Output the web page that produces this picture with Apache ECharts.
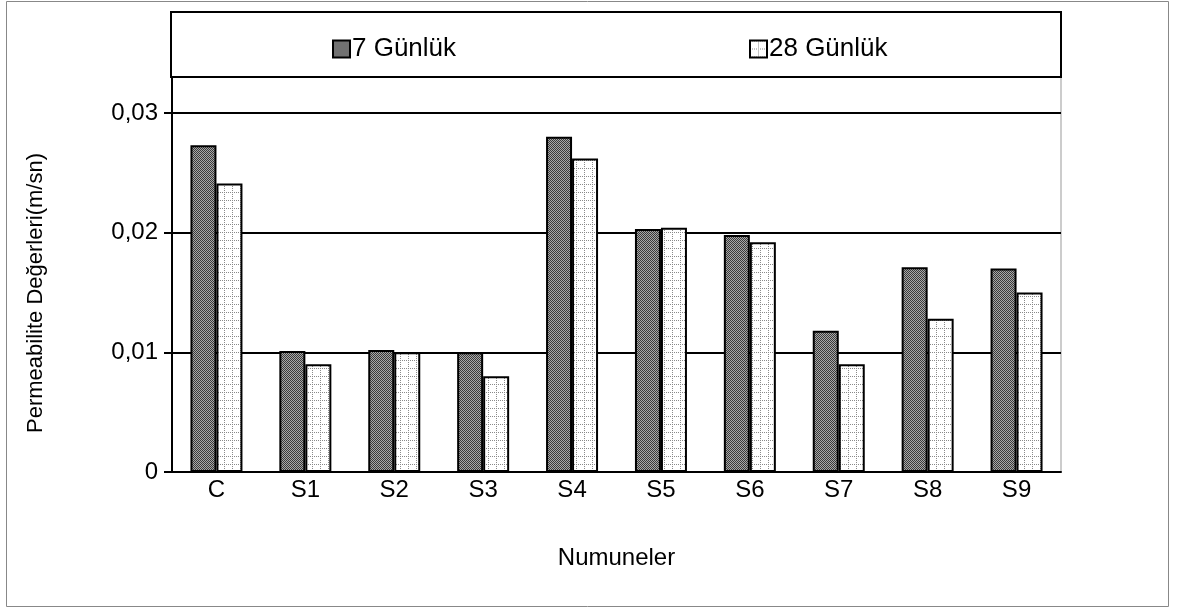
<!DOCTYPE html>
<html>
<head>
    <meta charset="utf-8">
    <script src="https://cdn.jsdelivr.net/npm/echarts@6/dist/echarts.min.js"></script>
</head>
<body style="margin:0;background:#fff;">
    <div id="main" style="width:1177px;height:608px;"></div>
    <script type="text/javascript">
        // veriler
        var numuneler = ['C', 'S1', 'S2', 'S3', 'S4', 'S5', 'S6', 'S7', 'S8', 'S9'];
        var gun7 = [0.0273, 0.0101, 0.0102, 0.0100, 0.0280, 0.0203, 0.0198, 0.0118, 0.0171, 0.0170];
        var gun28 = [0.0241, 0.0090, 0.0100, 0.0080, 0.0262, 0.0204, 0.0192, 0.0090, 0.0128, 0.0150];
        var yTicks = [0, 0.01, 0.02, 0.03];

        // desenler
        function koyuDesen() {
            var c = document.createElement('canvas');
            c.width = 2; c.height = 2;
            var ctx = c.getContext('2d');
            ctx.fillStyle = '#a8a8a8';
            ctx.fillRect(0, 0, 2, 2);
            ctx.fillStyle = '#3a3a3a';
            ctx.fillRect(0, 0, 1, 1);
            ctx.fillRect(1, 1, 1, 1);
            return c;
        }
        function acikDesen() {
            var c = document.createElement('canvas');
            c.width = 8; c.height = 8;
            var ctx = c.getContext('2d');
            ctx.fillStyle = '#ffffff';
            ctx.fillRect(0, 0, 8, 8);
            ctx.fillStyle = '#8a8a8a';
            for (var i = 0; i < 8; i += 2) {
                ctx.fillRect(0, i, 1, 1);
                ctx.fillRect(i, 0, 1, 1);
            }
            return c;
        }

        var myChart = echarts.init(document.getElementById('main'));
        var yazi = 'Liberation Sans';

        var option = {
            animation: false,
            textStyle: { fontFamily: yazi },
            graphic: [
                {
                    type: 'rect', z: -10,
                    shape: { x: 6.5, y: 1.5, width: 1162, height: 605 },
                    style: { fill: '#fff', stroke: '#888', lineWidth: 1 }
                },
                {
                    type: 'rect', z: 0,
                    shape: { x: 171, y: 12, width: 890, height: 65 },
                    style: { fill: '#fff', stroke: '#000', lineWidth: 2 }
                },
                {
                    type: 'text', z: 10,
                    x: 36, y: 293, rotation: Math.PI / 2,
                    style: {
                        text: 'Permeabilite Değerleri(m/sn)',
                        font: '22px "Liberation Sans"',
                        fill: '#000',
                        align: 'center',
                        verticalAlign: 'middle'
                    }
                }
            ],
            legend: [
                {
                    data: ['7 Günlük'], left: 327, top: 31,
                    itemWidth: 17, itemHeight: 17, itemGap: 0,
                    icon: 'rect',
                    textStyle: { fontSize: 26, fontFamily: yazi, color: '#000', padding: [0, 0, 0, -3] },
                    z: 10
                },
                {
                    data: ['28 Günlük'], left: 744, top: 31,
                    itemWidth: 17, itemHeight: 17, itemGap: 0,
                    icon: 'rect',
                    textStyle: { fontSize: 26, fontFamily: yazi, color: '#000', padding: [0, 0, 0, -3] },
                    z: 10
                }
            ],
            grid: {
                left: 172, right: 116, top: 77, bottom: 136,
                show: true, borderColor: '#999', borderWidth: 1
            },
            xAxis: {
                type: 'category',
                data: numuneler,
                name: 'Numuneler',
                nameLocation: 'middle',
                nameGap: 74,
                nameTextStyle: { fontSize: 24, color: '#000', fontFamily: yazi },
                axisLine: { lineStyle: { color: '#000', width: 2 } },
                axisTick: { length: 8, lineStyle: { color: '#000', width: 2 } },
                axisLabel: { fontSize: 24, color: '#000', margin: 6 }
            },
            yAxis: {
                type: 'value',
                min: 0, max: 0.033, interval: 0.01,
                axisLine: { show: true, lineStyle: { color: '#000', width: 2 } },
                axisTick: { show: true, length: 8, customValues: yTicks, lineStyle: { color: '#000', width: 2 } },
                axisLabel: {
                    fontSize: 24, color: '#000', margin: 14,
                    customValues: yTicks,
                    formatter: function (v) {
                        return v === 0 ? '0' : v.toFixed(2).replace('.', ',');
                    }
                },
                splitLine: { lineStyle: { color: '#000', width: 2 } }
            },
            series: [
                {
                    name: '7 Günlük', type: 'bar', data: gun7,
                    barWidth: 26, barGap: '0%',
                    itemStyle: {
                        color: { image: koyuDesen(), repeat: 'repeat' },
                        borderColor: '#000', borderWidth: 2
                    }
                },
                {
                    name: '28 Günlük', type: 'bar', data: gun28,
                    barWidth: 26, barGap: '0%',
                    itemStyle: {
                        color: { image: acikDesen(), repeat: 'repeat' },
                        borderColor: '#000', borderWidth: 2
                    }
                }
            ]
        };
        myChart.setOption(option);
    </script>
</body>
</html>
